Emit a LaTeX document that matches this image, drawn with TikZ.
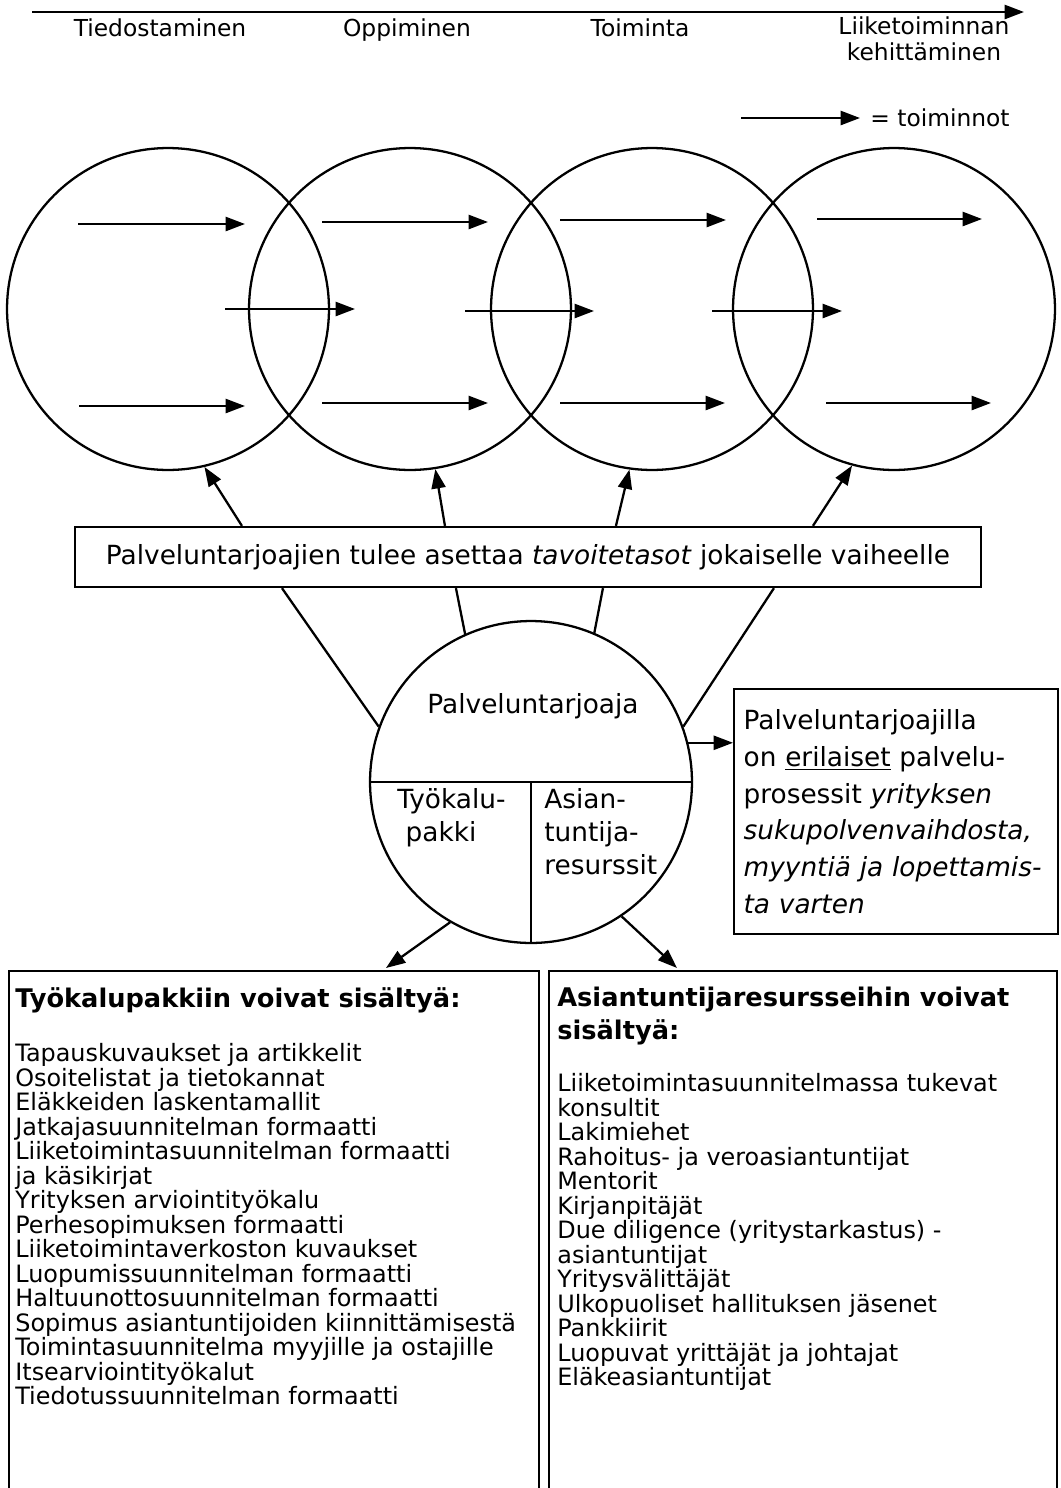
\documentclass[tikz,border=0pt]{standalone}
\usepackage{fontspec}
\setmainfont{DejaVu Sans}[BoldFont={DejaVu Sans Bold},ItalicFont={DejaVu Sans Oblique}]
\usetikzlibrary{arrows.meta,calc}

\tikzset{
  act/.style={-{Triangle[length=11pt,width=8pt]},line width=1.3pt},
  plain/.style={line width=1.3pt},
  ring/.style={circle,draw,line width=1.3pt,minimum size=6.44cm,inner sep=0pt},
  toplabel/.style={inner sep=0pt,font=\fontsize{13.3}{15.3}\selectfont},
  midlabel/.style={inner sep=0pt,font=\fontsize{15}{18.7}\selectfont},
  goalbox/.style={draw,line width=1.3pt,minimum width=18.12cm,minimum height=1.2cm,
    font=\fontsize{15}{18}\selectfont},
  infobox/.style={draw,line width=1.3pt,minimum width=6.48cm,minimum height=4.9cm,
    text width=6.1cm,inner xsep=0.19cm,align=left,font=\fontsize{15}{21}\selectfont},
  listbox/.style={draw,line width=1.4pt,minimum height=11cm},
  listhead/.style={inner sep=0pt,align=left,font=\fontsize{14.6}{18.7}\selectfont\bfseries},
  listtext/.style={inner sep=0pt,align=left,font=\fontsize{13.6}{13.95}\selectfont}
}

\begin{document}
\begin{tikzpicture}[x=0.02cm,y=-0.02cm]
  \useasboundingbox (0,0) rectangle (1061,1488);

  % Aikajana ja vaiheet
  \draw[act] (32,12) -- (1024,12);
  \node[toplabel,anchor=base] (s1) at (160,36) {Tiedostaminen};
  \node[toplabel,anchor=base] (s2) at (407,36) {Oppiminen};
  \node[toplabel,anchor=base] (s3) at (640,36) {Toiminta};
  \node[toplabel,anchor=north,align=center] (s4) at (924,16) {Liiketoiminnan\\kehittäminen};

  % Selite
  \draw[act] (741,118) -- (860,118);
  \node[toplabel,anchor=west] (legend) at (870,118) {= toiminnot};

  % Vaiheympyrat
  \node[ring] (c1) at (168,309) {};
  \node[ring] (c2) at (410,309) {};
  \node[ring] (c3) at (652,309) {};
  \node[ring] (c4) at (894,309) {};

  % Toiminnot
  \foreach \xa/\xb/\yy in {78/245/224, 79/245/406, 322/488/222, 322/488/403,
      560/726/220, 560/725/403, 817/982/219, 826/991/403,
      225/355/309, 465/594/311, 712/842/311}
    \draw[act] (\xa,\yy) -- (\xb,\yy);

  % Tavoitetasot
  \node[goalbox] (goal) at (528,557)
    {Palveluntarjoajien tulee asettaa \textit{tavoitetasot} jokaiselle vaiheelle};
  \draw[act] ($(goal.north west)+(168,0)$) -- (c1.283);
  \draw[act] ($(goal.north west)+(371,0)$) -- (c2.279);
  \draw[act] ($(goal.north west)+(542,0)$) -- (c3.262);
  \draw[act] ($(goal.north west)+(739,0)$) -- (c4.255);

  % Palveluntarjoaja
  \node[ring] (prov) at (531,782) {};
  \draw[plain] (prov.west) -- (prov.east);
  \draw[plain] (prov.center) -- (prov.south);
  \node[midlabel,anchor=base] (provname) at (533,713) {Palveluntarjoaja};
  \node[midlabel,anchor=north west,align=left] (kit) at (397,788) {Työkalu-\\\ pakki};
  \node[midlabel,anchor=north west,align=left] (res) at (544,788) {Asian-\\tuntija-\\resurssit};

  \draw[plain] ($(goal.south west)+(208,0)$) -- (prov.160);
  \draw[plain] ($(goal.south west)+(382,0)$) -- (prov.114);
  \draw[plain] ($(goal.south west)+(529,0)$) -- (prov.67);
  \draw[plain] ($(goal.south west)+(700,0)$) -- (prov.20);

  % Palveluprosessit
  \node[infobox,anchor=north west] (info) at (733,688)
    {Palveluntarjoajilla\\
     on \underline{erilaiset} palvelu-\\
     prosessit \textit{yrityksen}\\
     \textit{sukupolvenvaihdosta,}\\
     \textit{myyntiä ja lopettamis-}\\
     \textit{ta varten}};
  \draw[act] (prov.14) -- (prov.14 -| info.west);

  % Tyokalupakki ja asiantuntijat
  \node[listbox,anchor=north west,minimum width=10.6cm] (tools) at (8,970) {};
  \node[listbox,anchor=north west,minimum width=10.16cm] (experts) at (548,970) {};
  \draw[act] (prov.240) -- ($(tools.north west)+(378,-2)$);
  \draw[act] (prov.304) -- ($(experts.north west)+(129,-2)$);

  \node[listhead,anchor=north west] (toolshead) at (15,987) {Työkalupakkiin voivat sisältyä:};
  \node[listtext,anchor=north west] (toolslist) at (15,1043)
    {Tapauskuvaukset ja artikkelit\\
     Osoitelistat ja tietokannat\\
     Eläkkeiden laskentamallit\\
     Jatkajasuunnitelman formaatti\\
     Liiketoimintasuunnitelman formaatti\\
     ja käsikirjat\\
     Yrityksen arviointityökalu\\
     Perhesopimuksen formaatti\\
     Liiketoimintaverkoston kuvaukset\\
     Luopumissuunnitelman formaatti\\
     Haltuunottosuunnitelman formaatti\\
     Sopimus asiantuntijoiden kiinnittämisestä\\
     Toimintasuunnitelma myyjille ja ostajille\\
     Itsearviointityökalut\\
     Tiedotussuunnitelman formaatti};

  \node[listhead,anchor=north west] (expertshead) at (557,987)
    {Asiantuntijaresursseihin voivat\\sisältyä:};
  \node[listtext,anchor=north west] (expertslist) at (557,1073)
    {Liiketoimintasuunnitelmassa tukevat\\
     konsultit\\
     Lakimiehet\\
     Rahoitus- ja veroasiantuntijat\\
     Mentorit\\
     Kirjanpitäjät\\
     Due diligence (yritystarkastus) -\\
     asiantuntijat\\
     Yritysvälittäjät\\
     Ulkopuoliset hallituksen jäsenet\\
     Pankkiirit\\
     Luopuvat yrittäjät ja johtajat\\
     Eläkeasiantuntijat};
\end{tikzpicture}
\end{document}
